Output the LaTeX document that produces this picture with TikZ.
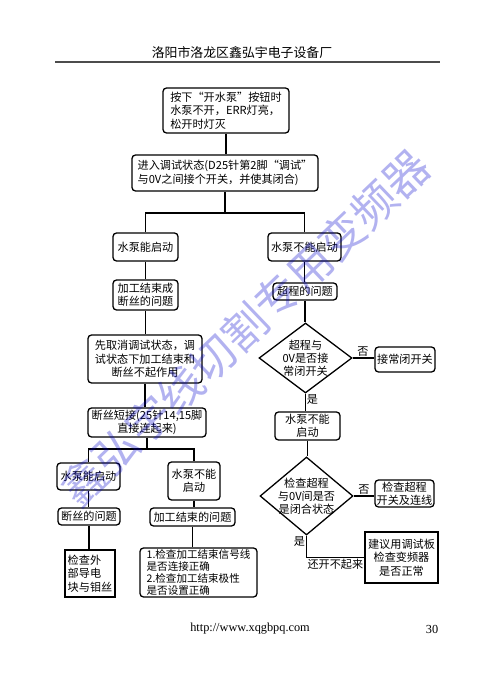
\documentclass[tikz,border=0pt]{standalone}
\usepackage{fontspec}
\setmainfont{Liberation Serif}
\newfontfamily\cjk{Noto Sans CJK SC}
\usetikzlibrary{shapes.geometric, calc}
\tikzset{
  flowBox/.style={
    draw=black,
    line width=1.1pt,
    rounded corners=3pt,
    fill=white,
    inner sep=1pt,
    align=center,
    font=\cjk\fontsize{9.5}{11.5}\selectfont
  },
  flowRect/.style={
    flowBox,
    rounded corners=0pt
  },
  flowDecision/.style={
    draw=black,
    line width=1.1pt,
    diamond,
    fill=white,
    inner sep=0pt
  },
  boxSize/.style 2 args={
    minimum width=#1*0.03cm,
    minimum height=#2*0.03cm
  },
  flowLine/.style={
    draw=black,
    line width=1.1pt
  },
  flowLabel/.style={
    font=\cjk\fontsize{9.5}{11}\selectfont,
    inner sep=1pt
  },
  waterMark/.style={
    font=\cjk\fontsize{38}{38}\selectfont,
    text=blue!80!black,
    opacity=0.3
  }
}

\begin{document}
\begin{tikzpicture}[x=0.03cm, y=-0.03cm]
  \useasboundingbox (0,0) rectangle (483,680);
  % page header
  \node[font=\cjk\fontsize{11}{13}\selectfont] (title) at (242,53) {洛阳市洛龙区鑫弘宇电子设备厂};
  \draw[line width=1pt, black!70] (55,62) -- (440,62);

  % top of the chart
  \node[flowBox, boxSize={126}{45}, align=left] (start) at (226,110.5) {按下“开水泵”按钮时\\水泵不开，ERR灯亮，\\松开时灯灭};
  \node[flowBox, boxSize={186}{36}, align=left] (debug) at (225,173) {进入调试状态(D25针第2脚“调试”\\与0V之间接个开关，并使其闭合)};
  \coordinate (split1) at (225,213);

  % left branch: pump starts
  \node[flowBox, boxSize={65}{28}] (runYes) at (145.5,247) {水泵能启动};
  \node[flowBox, boxSize={65}{30}] (endWire) at (145.5,295) {加工结束成\\断丝的问题};
  \node[flowBox, boxSize={114}{48}] (cancel) at (145,359) {先取消调试状态，调\\试状态下加工结束和\\断丝不起作用};
  \node[flowBox, boxSize={118}{29}] (short) at (147,422.5) {断丝短接(25针14,15脚\\直接连起来)};
  \coordinate (split2) at (147,449);
  \node[flowBox, boxSize={63}{27}] (runYesB) at (88.5,476.5) {水泵能启动};
  \node[flowBox, boxSize={62}{17}] (wireIssue) at (89,516.5) {断丝的问题};
  \node[flowRect, boxSize={50}{47}, align=left] (checkBlock) at (90,573.5) {检查外\\部导电\\块与钼丝};
  \node[flowBox, boxSize={52}{38}] (runNoB) at (194,481) {水泵不能\\启动};
  \node[flowBox, boxSize={85}{18}] (endIssue) at (192.5,517) {加工结束的问题};
  \node[flowBox, boxSize={117}{49}, align=left, font=\cjk\fontsize{9}{10.2}\selectfont] (checkSignal) at (198.5,572.5) {1.检查加工结束信号线\\是否连接正确\\2.检查加工结束极性\\是否设置正确};

  % right branch: pump does not start
  \node[flowBox, boxSize={73}{28}] (runNo) at (304.5,247) {水泵不能启动};
  \node[flowBox, boxSize={64}{17}] (overTravel) at (305,291.5) {超程的问题};
  \node[flowDecision, boxSize={93}{70}] (askNC) at (305.5,358) {};
  \node[flowLabel, align=center] (askNCtext) at (askNC) {超程与\\0V是否接\\常闭开关};
  \node[flowBox, boxSize={60}{25}] (fitNC) at (405,359.5) {接常闭开关};
  \node[flowBox, boxSize={65}{28}] (runNoC) at (307.5,426) {水泵不能\\启动};
  \node[flowDecision, boxSize={93}{78}] (askClosed) at (306.5,496) {};
  \node[flowLabel, align=center] (askClosedtext) at (askClosed) {检查超程\\与0V间是否\\是闭合状态};
  \node[flowBox, boxSize={59}{27}] (checkSwitch) at (404.5,493.5) {检查超程\\开关及连线};
  \node[flowRect, boxSize={73}{51}] (checkBoard) at (401.5,557.5) {建议用调试板\\检查变频器\\是否正常};
  \coordinate (turn) at (askClosed.south |- checkBoard.west);

  % connectors
  \draw[flowLine] (start.south) -- (start.south |- debug.north);
  \draw[flowLine] (debug.south) -- (split1);
  \draw[flowLine] (runYes.north) -- (runYes.north |- split1) -- (runNo.north |- split1) -- (runNo.north);
  \draw[flowLine] (runYes.south) -- (runYes.south |- endWire.north);
  \draw[flowLine] (endWire.south) -- (endWire.south |- cancel.north);
  \draw[flowLine] (cancel.south) -- (cancel.south |- short.north);
  \draw[flowLine] (short.south) -- (split2);
  \draw[flowLine] (runYesB.north) -- (runYesB.north |- split2) -- (runNoB.north |- split2) -- (runNoB.north);
  \draw[flowLine] (runYesB.south) -- (runYesB.south |- wireIssue.north);
  \draw[flowLine] (wireIssue.south) -- (wireIssue.south |- checkBlock.north);
  \draw[flowLine] (runNoB.south) -- (runNoB.south |- endIssue.north);
  \draw[flowLine] (endIssue.south) -- (endIssue.south |- checkSignal.north);
  \draw[flowLine] (runNo.south) -- (runNo.south |- overTravel.north);
  \draw[flowLine] (overTravel.south) -- (overTravel.south |- askNC.north);
  \draw[flowLine] (askNC.east) -- (askNC.east -| fitNC.west);
  \draw[flowLine] (askNC.south) -- (askNC.south |- runNoC.north);
  \draw[flowLine] (runNoC.south) -- (runNoC.south |- askClosed.north);
  \draw[flowLine] (askClosed.east) -- (askClosed.east -| checkSwitch.west);
  \draw[flowLine] (askClosed.south) -- (turn) -- (checkBoard.west);

  % branch labels
  \node[flowLabel, anchor=south west] (noA) at ([xshift=0.1cm]askNC.east) {否};
  \node[flowLabel, anchor=north west] (yesA) at (askNC.south) {是};
  \node[flowLabel, anchor=south west] (noB) at ([xshift=0.1cm]askClosed.east) {否};
  \node[flowLabel, anchor=north east] (yesB) at (askClosed.south) {是};
  \node[flowLabel, anchor=north] (failText) at ($(turn)!0.5!(checkBoard.west)$) {还开不起来};

  % page footer
  \node[font=\fontsize{10.5}{12}\selectfont] (site) at (250,629) {http://www.xqgbpq.com};
  \node[font=\fontsize{10.5}{12}\selectfont] (page) at (432,629) {30};

  % watermark
  \node[waterMark, rotate=43.7] (mark) at (245,328) {鑫弘宇线切割专用变频器};
\end{tikzpicture}
\end{document}
